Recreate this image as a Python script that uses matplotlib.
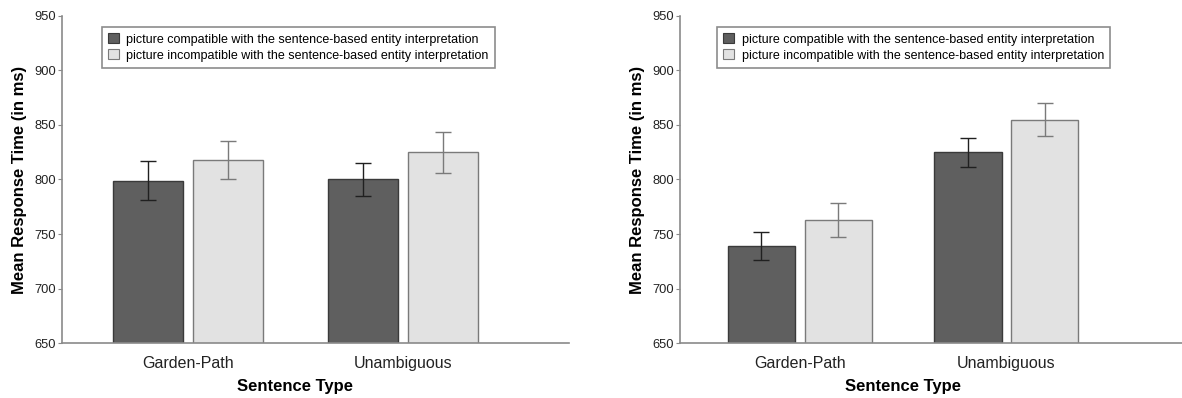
import numpy as np
import matplotlib
matplotlib.use("Agg")
import matplotlib.pyplot as plt
from matplotlib.patches import Patch

plt.rcParams["font.family"] = ["Liberation Sans", "DejaVu Sans"]

categories = ["Garden-Path", "Unambiguous"]
legend_labels = [
    "picture compatible with the sentence-based entity interpretation",
    "picture incompatible with the sentence-based entity interpretation",
]

# left panel
left_compatible = [799, 800]
left_compatible_err = [18, 15.5]
left_incompatible = [818, 825]
left_incompatible_err = [17.5, 19]

# right panel
right_compatible = [739, 825]
right_compatible_err = [12.8, 13.5]
right_incompatible = [763, 855]
right_incompatible_err = [15.5, 15]

y_ticks = [650, 700, 750, 800, 850, 900, 950]

DARK = "#5f5f5f"
LIGHT = "#e2e2e2"
DARK_EDGE = "#3a3a3a"
LIGHT_EDGE = "#7a7a7a"
AXIS_GREY = "#8a8a8a"


def _draw_panel(ax, comp, comp_err, incomp, incomp_err, xlim):
    x = np.arange(len(categories))
    width = 0.325
    offset = 0.186
    ax.bar(x - offset, comp, width, color=DARK, edgecolor=DARK_EDGE,
           linewidth=1.0, zorder=2)
    ax.bar(x + offset, incomp, width, color=LIGHT, edgecolor=LIGHT_EDGE,
           linewidth=1.0, zorder=2)
    ax.errorbar(x - offset, comp, yerr=comp_err, fmt="none", ecolor="#202020",
                elinewidth=1.0, capsize=6, capthick=1.0, zorder=3)
    ax.errorbar(x + offset, incomp, yerr=incomp_err, fmt="none", ecolor="#7a7a7a",
                elinewidth=1.0, capsize=6, capthick=1.0, zorder=3)

    ax.set_ylim(650, 950)
    ax.set_xlim(*xlim)
    ax.set_yticks(y_ticks)
    ax.set_xticks(x)
    ax.set_xticklabels(categories, fontsize=11.5)
    ax.tick_params(axis="y", labelsize=9.3, length=3, color=AXIS_GREY, pad=1.5,
                   labelcolor="#222222")
    ax.tick_params(axis="x", length=0, pad=9, labelcolor="#222222")

    for side in ("top", "right"):
        ax.spines[side].set_visible(False)
    for side in ("left", "bottom"):
        ax.spines[side].set_color(AXIS_GREY)
        ax.spines[side].set_linewidth(1.2)

    ax.set_ylabel("Mean Response Time (in ms)", fontsize=12, fontweight="bold",
                  labelpad=5)
    ax.set_xlabel("Sentence Type", fontsize=12, fontweight="bold", labelpad=6)
    # label is centred between the two groups, not on the axes
    ax.xaxis.label.set_x((0.5 - xlim[0]) / (xlim[1] - xlim[0]))

    handles = [
        Patch(facecolor=DARK, edgecolor=DARK_EDGE, linewidth=0.8),
        Patch(facecolor=LIGHT, edgecolor=LIGHT_EDGE, linewidth=0.8),
    ]
    return handles


fig = plt.figure(figsize=(11.82, 3.98), dpi=100)
ax1 = fig.add_axes([0.0525, 0.138, 0.4285, 0.822])
ax2 = fig.add_axes([0.5753, 0.138, 0.4247, 0.822])

h1 = _draw_panel(ax1, left_compatible, left_compatible_err,
                 left_incompatible, left_incompatible_err, (-0.586, 1.772))
h2 = _draw_panel(ax2, right_compatible, right_compatible_err,
                 right_incompatible, right_incompatible_err, (-0.58, 1.85))

for ax, handles, bx in ((ax1, h1, 0.079), (ax2, h2, 0.074)):
    leg = ax.legend(handles, legend_labels, loc="upper left",
                    bbox_to_anchor=(bx, 0.966), borderaxespad=0,
                    fontsize=9.0, frameon=True, fancybox=False,
                    handlelength=0.85, handleheight=0.85, handletextpad=0.6,
                    labelspacing=0.3, borderpad=0.5)
    leg.get_frame().set_edgecolor("#707070")
    leg.get_frame().set_linewidth(1.2)

fig.savefig("out.png", dpi=100)
